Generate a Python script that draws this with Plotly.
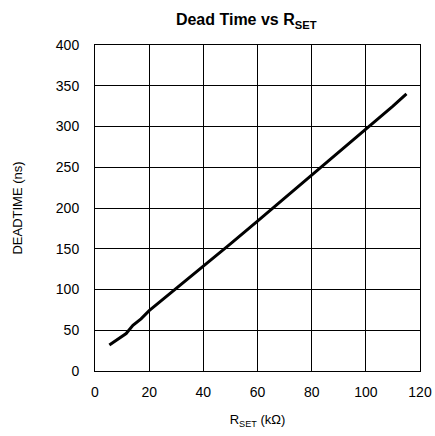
import plotly.graph_objects as go

rset_kohm = [5.3, 8, 11.5, 14, 17, 20, 30, 40, 50, 60, 70, 80, 90, 100, 105, 110, 115]
deadtime_ns = [32, 38, 46, 56, 64, 74, 101, 129, 156, 184, 212, 240, 268, 296, 310, 325, 340]

x_ticks = [0, 20, 40, 60, 80, 100, 120]
y_ticks = [0, 50, 100, 150, 200, 250, 300, 350, 400]

fig = go.Figure()
fig.add_trace(go.Scatter(x=rset_kohm, y=deadtime_ns, mode="lines",
                         line=dict(color="black", width=3), showlegend=False))

font = "Liberation Sans, Arial, sans-serif"
fig.update_layout(
    width=435, height=436,
    margin=dict(l=95, r=15, t=45, b=65),
    paper_bgcolor="white", plot_bgcolor="white",
    font=dict(family=font, size=14, color="black"),
    title=dict(text="<b>Dead Time vs R<sub>SET</sub></b>", x=0.566, xanchor="center",
               y=0.955, yanchor="middle", font=dict(size=16, family=font, color="black")),
)
fig.update_xaxes(range=[0, 120], tickvals=x_ticks, showgrid=True, gridcolor="black", gridwidth=1,
                 showline=True, linecolor="black", linewidth=1, mirror=True, automargin=False,
                 ticks="outside", ticklen=8, tickcolor="rgba(0,0,0,0)", tickfont=dict(size=14),
                 zeroline=False, title=dict(text="R<sub>SET</sub> (kΩ)", standoff=16, font=dict(size=13)))
fig.update_yaxes(range=[0, 400], tickvals=y_ticks, showgrid=True, gridcolor="black", gridwidth=1,
                 showline=True, linecolor="black", linewidth=1, mirror=True, automargin=False,
                 ticks="outside", ticklen=12, tickcolor="rgba(0,0,0,0)", tickfont=dict(size=14),
                 zeroline=False, title=dict(text="DEADTIME (ns)", standoff=30, font=dict(size=13)))

fig.write_html("out.html", config={"displayModeBar": False, "responsive": False},
               post_script="document.documentElement.style.overflow='hidden';document.body.style.overflow='hidden';document.body.style.margin='0';document.body.style.padding='0';")
